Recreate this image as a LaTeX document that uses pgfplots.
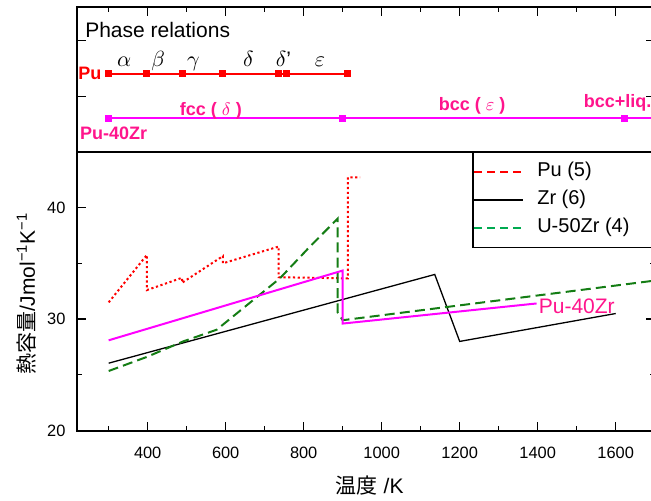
\documentclass[border=0pt]{standalone}
\usepackage{fontspec}
\setmainfont{Liberation Sans}
\newfontfamily\jp{Noto Sans CJK JP}
\usepackage{pgfplots}
\pgfplotsset{compat=1.18}

\definecolor{pured}{RGB}{255,0,0}
\definecolor{pzline}{RGB}{255,0,255}
\definecolor{pztext}{RGB}{255,20,140}
\definecolor{ugreen}{RGB}{20,125,20}
\definecolor{uleg}{RGB}{0,170,80}

\pgfplotsset{
  panel/.style={
    scale only axis, width=289pt,
    xmin=218, xmax=1700,
    axis line style={line width=0.85pt},
    every tick/.style={black, line width=0.6pt},
    major tick length=4.5pt, minor tick length=2.5pt,
    tick align=inside,
    tick label style={font=\fontsize{8.2}{9}\selectfont},
    /pgf/number format/assume math mode=true,
    /pgf/number format/1000 sep={},
    xtick={400,600,...,1600},
    minor xtick={300,500,...,1700},
  },
}

\begin{document}
\begin{tikzpicture}
\path[use as bounding box, clip] (-38.35pt,-35.15pt) rectangle (287.15pt,215.35pt);

% lower panel: heat capacity
\begin{axis}[panel, name=low, at={(0pt,0pt)}, anchor=south west, height=139.5pt,
  ymin=20, ymax=45, ytick={20,30,40}, minor ytick={25,35},
  xtick pos=left, ytick pos=both,
  xticklabel style={yshift=-4.5pt},
  yticklabel style={xshift=-2.1pt},
  label style={font=\fontsize{10.5}{12}\selectfont},
  xlabel={{\jp 温度} /K},
  ylabel={{\jp 熱容量}/Jmol\textsuperscript{−1}K\textsuperscript{−1}},
  xlabel style={at={(axis description cs:0.5,0)}, anchor=base, yshift=-31.3pt, xshift=2pt},
  ylabel style={at={(axis description cs:-0.0865,0.4914)}, anchor=center},
  legend cell align=left,
  legend image code/.code={\draw[#1] (0pt,0pt) -- (24.5pt,0pt);},
  legend style={at={(rel axis cs:0.6844,1)}, anchor=north west, draw=black,
    line width=0.8pt, fill=white, inner xsep=0pt, inner ysep=2.8pt, row sep=0pt,
    column sep=6.2pt,
    font=\fontsize{10}{12}\selectfont,
    nodes={inner ysep=2.2pt, inner xsep=0pt, text height=7.2pt, text depth=2.4pt}},
]
% Pu (5)
\addplot[pured, line width=1pt, dash pattern=on 1.1pt off 1.3pt, forget plot] coordinates {
  (300,31.5) (398,35.75) (398,32.6) (488,33.7) (488,33.25) (593,35.65) (593,35.0)
  (736,36.5) (736,33.75) (913,33.65) (913,42.7) (945,42.7)};
% Zr (6)
\addplot[black, line width=0.65pt, forget plot] coordinates {
  (300,26.05) (1136,34.0) (1200,28.0) (1600,30.5)};
% U-50Zr (4)
\addplot[ugreen, line width=1pt, dash pattern=on 5pt off 2.6pt, forget plot] coordinates {
  (300,25.35) (397,26.6) (491,28.0) (577,29.05) (739,33.65) (816,36.5) (887,39.0)
  (887,30.6) (900,29.9) (1700,33.45)};
% Pu-40Zr
\addplot[pzline, line width=1pt, forget plot] coordinates {
  (300,28.1) (900,34.35) (900,29.6) (1397,31.4)};
\node[anchor=base west, inner sep=0pt, text=pztext, font=\fontsize{10.5}{12}\selectfont]
  at (axis cs:1402,30.52) {Pu-40Zr};

\addlegendimage{pured, line width=0.6pt, dash pattern=on 4pt off 2.5pt}
\addlegendentry{\makebox[64pt][l]{Pu (5)}}
\addlegendimage{black, line width=1.4pt}
\addlegendentry{\makebox[64pt][l]{Zr (6)}}
\addlegendimage{uleg, line width=0.8pt, dash pattern=on 4pt off 2.5pt}
\addlegendentry{\makebox[64pt][l]{U-50Zr (4)}}
\end{axis}

% upper panel: phase relations
\begin{axis}[panel, at={(low.north west)}, anchor=south west, height=72.2pt,
  ymin=0, ymax=144.4, ytick={55,111}, yticklabels={}, xticklabels={},
  xtick pos=right, ytick pos=both,
]
\addplot[pured, line width=0.9pt, mark=square*, mark size=1.3pt] coordinates {
  (300,77.7) (398,77.7) (488,77.7) (593,77.7) (736,77.7) (756,77.7) (913,77.7)};
\addplot[pzline, line width=0.9pt, mark=square*, mark size=1.3pt, mark indices={1,2,3}] coordinates {
  (300,33.4) (900,33.4) (1622,33.4) (1700,33.4)};

\node[anchor=base west, inner sep=0pt, font=\fontsize{10.5}{12}\selectfont]
  at (axis cs:239,114.4) {Phase relations};
\begin{scope}[every node/.style={anchor=base, inner sep=0pt, font=\fontsize{10.5}{12}\selectfont}]
\node at (axis cs:340,85) {$\alpha$};
\node at (axis cs:427,85) {$\beta$};
\node at (axis cs:517,85) {$\gamma$};
\node at (axis cs:658,85) {$\delta$};
\node at (axis cs:748,85) {$\delta$'};
\node at (axis cs:842,85) {$\varepsilon$};
\end{scope}
\node[anchor=base east, inner sep=0pt, text=pured, font=\bfseries\fontsize{9}{10}\selectfont]
  at (axis cs:282,71.7) {Pu};
\node[anchor=base west, inner sep=0pt, text=pztext, font=\bfseries\fontsize{9}{10}\selectfont]
  at (axis cs:226,12.4) {Pu-40Zr};
\begin{scope}[every node/.style={anchor=base, inner sep=0pt, text=pztext, font=\bfseries\fontsize{9}{10}\selectfont}]
\node at (axis cs:562,36.2) {fcc ( $\delta$ )};
\node at (axis cs:1232,40.7) {bcc ( $\varepsilon$ )};
\node at (axis cs:1605,44.4) {bcc+liq.};
\end{scope}
\end{axis}
\end{tikzpicture}
\end{document}
